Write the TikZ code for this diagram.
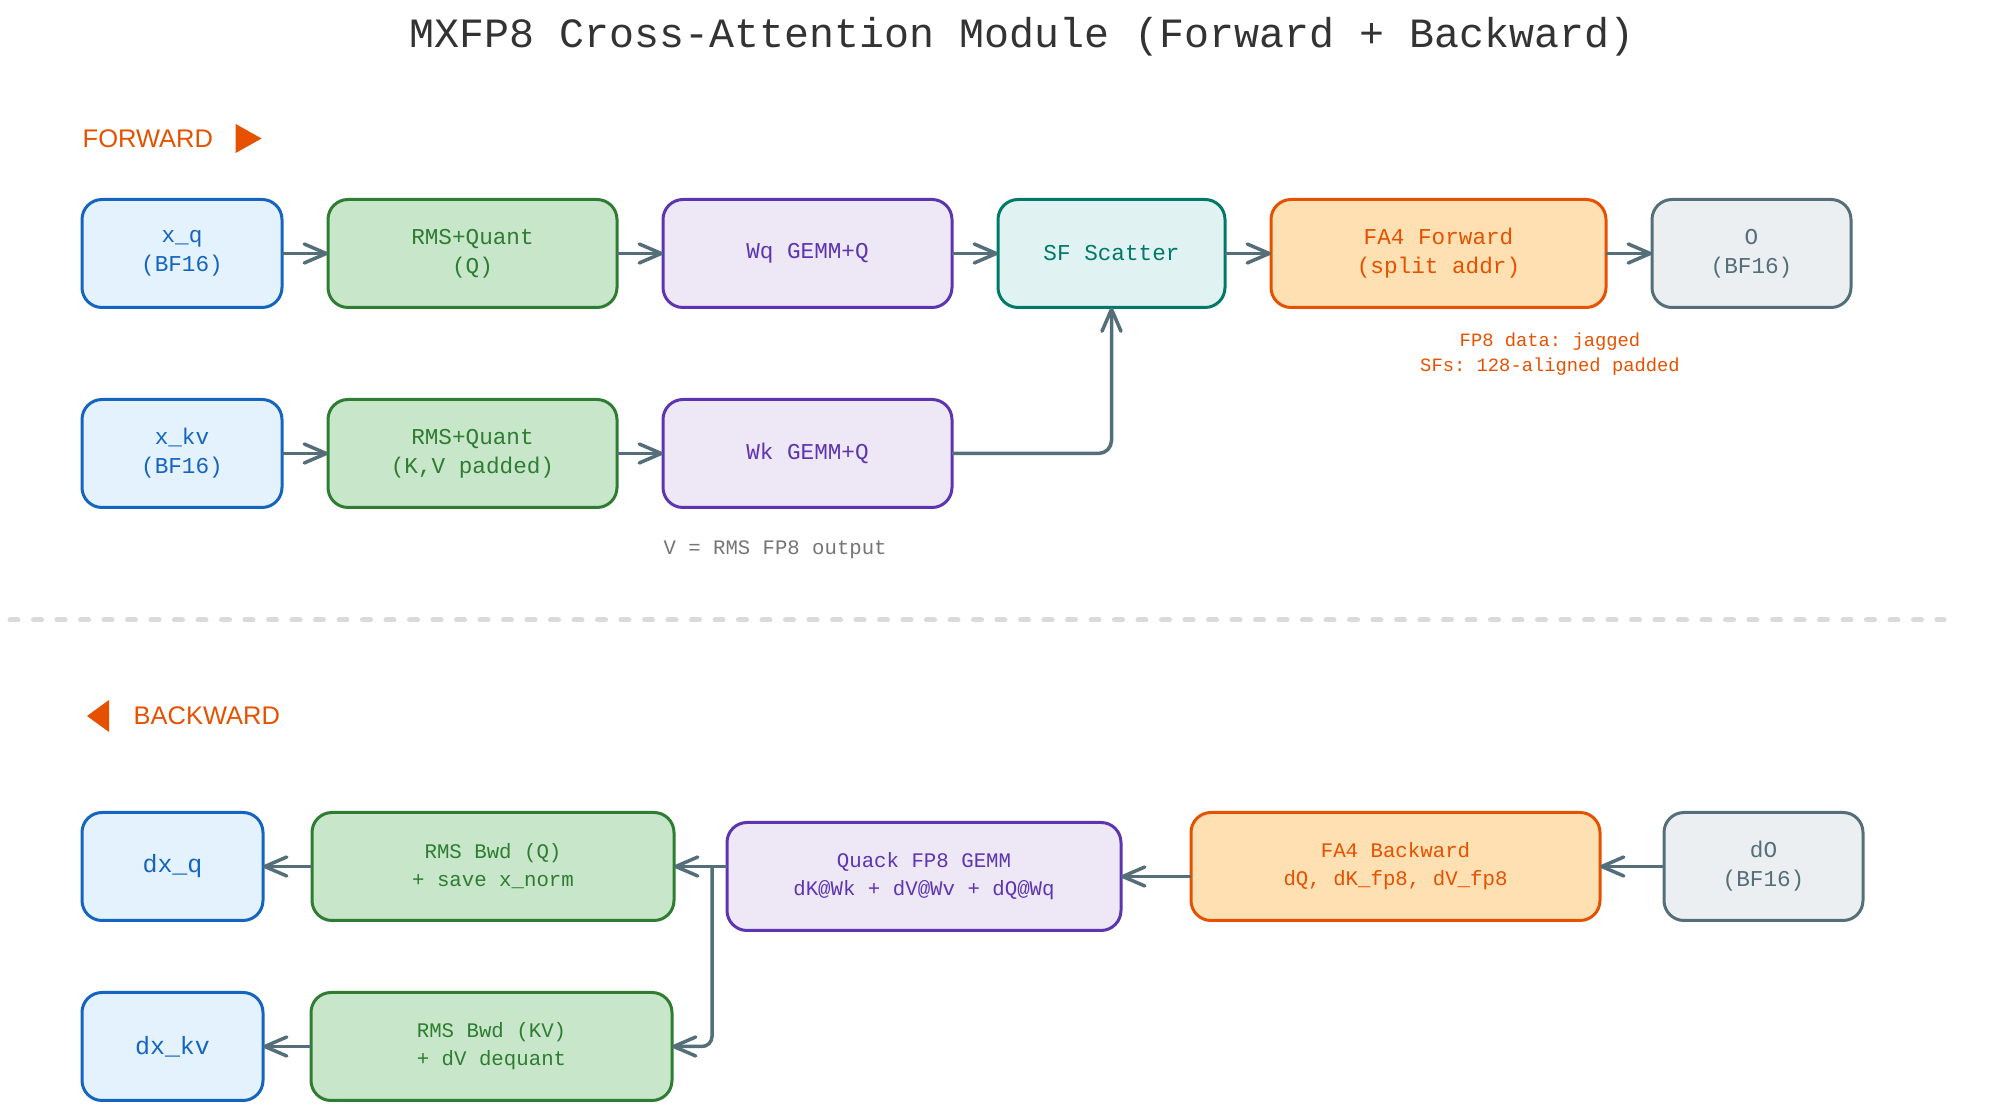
\documentclass[tikz,border=0pt]{standalone}
\usepackage{fontspec}
\setmonofont{Liberation Mono}
\newfontfamily\headfont{Liberation Sans}
\usepackage{tikz}
\usetikzlibrary{positioning,arrows.meta}
\definecolor{blueD}{HTML}{1565C0}
\definecolor{blueL}{HTML}{E3F2FD}
\definecolor{greenD}{HTML}{2E7D32}
\definecolor{greenL}{HTML}{C8E6C9}
\definecolor{purpD}{HTML}{5E35B1}
\definecolor{purpL}{HTML}{EDE7F6}
\definecolor{tealD}{HTML}{00796B}
\definecolor{tealL}{HTML}{E0F2F1}
\definecolor{orngD}{HTML}{E65100}
\definecolor{orngL}{HTML}{FFE0B2}
\definecolor{grayD}{HTML}{546E7A}
\definecolor{grayL}{HTML}{ECEFF1}
\definecolor{titleC}{HTML}{333333}
\definecolor{noteC}{HTML}{757575}
\definecolor{sepC}{HTML}{DADADA}
\newcommand{\fsize}[2]{\fontsize{#1}{#2}\selectfont}

\begin{document}
\begin{tikzpicture}[
  box/.style={draw, rounded corners=0.2cm, line width=0.03cm, align=center, minimum height=1.08cm, inner sep=0pt, outer sep=0pt, font=\ttfamily\fsize{6.45pt}{8.25pt}},
  bwdbox/.style={box, font=\ttfamily\fsize{5.9pt}{7.97pt}},
  io/.style={draw=blueD, fill=blueL, text=blueD},
  norm/.style={draw=greenD, fill=greenL, text=greenD},
  gemm/.style={draw=purpD, fill=purpL, text=purpD},
  scat/.style={draw=tealD, fill=tealL, text=tealD},
  attn/.style={draw=orngD, fill=orngL, text=orngD},
  grad/.style={draw=grayD, fill=grayL, text=grayD},
  arrow/.style={-{Straight Barb[length=0.22cm,width=0.19cm,round]}, line width=0.035cm, draw=grayD},
  header/.style={anchor=west, inner sep=0pt, text=orngD, font=\headfont\fsize{7.25pt}{9pt}}
]
\useasboundingbox (0,0) rectangle (19.99,-11.15);

\node[text=titleC, font=\ttfamily\fsize{11.85pt}{14pt}] (title) at (10.22,-0.37) {MXFP8 Cross-Attention Module (Forward + Backward)};

\node[header] (fwdlbl) at (0.82,-1.385) {FORWARD};
\fill[orngD, shift={(fwdlbl.east)}] (0.22,0.145) -- (0.48,0) -- (0.22,-0.145) -- cycle;

\node[box, io, minimum width=2cm] (xq) at (1.82,-2.535) {x\_q\\(BF16)};
\node[box, norm, minimum width=2.89cm, right=0.46cm of xq] (rmsq) {RMS+Quant\\(Q)};
\node[box, gemm, minimum width=2.89cm, right=0.46cm of rmsq] (wq) {Wq GEMM+Q};
\node[box, scat, minimum width=2.27cm, right=0.46cm of wq] (sf) {SF Scatter};
\node[box, attn, minimum width=3.35cm, right=0.46cm of sf] (fa4f) {FA4 Forward\\(split addr)};
\node[box, grad, minimum width=1.99cm, right=0.46cm of fa4f] (out) {O\\(BF16)};

\node[box, io, minimum width=2cm, below=0.92cm of xq] (xkv) {x\_kv\\(BF16)};
\node[box, norm, minimum width=2.89cm, right=0.46cm of xkv] (rmskv) {RMS+Quant\\(K,V padded)};
\node[box, gemm, minimum width=2.89cm, right=0.46cm of rmskv] (wk) {Wk GEMM+Q};

\node[text=orngD, font=\ttfamily\fsize{5.35pt}{7.1pt}, align=center, inner sep=0pt, below=0.25cm of fa4f, xshift=1.115cm] (sfnote) {FP8 data: jagged\\SFs: 128-aligned padded};
\node[text=noteC, font=\ttfamily\fsize{5.87pt}{7.5pt}, inner sep=0pt, below=0.33cm of wk.south west, anchor=north west] (vnote) {V = RMS FP8 output};

\draw[arrow] (xq) -- (rmsq);
\draw[arrow] (rmsq) -- (wq);
\draw[arrow] (wq) -- (sf);
\draw[arrow] (sf) -- (fa4f);
\draw[arrow] (fa4f) -- (out);
\draw[arrow] (xkv) -- (rmskv);
\draw[arrow] (rmskv) -- (wk);
\draw[arrow, rounded corners=0.13cm] (wk) -| (sf);

\draw[sepC, line width=0.05cm, line cap=round, dash pattern=on 0.08cm off 0.155cm] (0.1,-6.2) -- (19.44,-6.2);

\node[header] (bwdlbl) at (1.33,-7.16) {BACKWARD};
\fill[orngD, shift={(bwdlbl.west)}] (-0.24,0.16) -- (-0.46,0) -- (-0.24,-0.16) -- cycle;

\node[box, io, minimum width=1.81cm, font=\ttfamily\fsize{7.1pt}{9pt}] (dxq) at (1.725,-8.665) {dx\_q};
\node[bwdbox, norm, minimum width=3.62cm, right=0.49cm of dxq] (rmsbq) {RMS Bwd (Q)\\+ save x\_norm};
\node[bwdbox, gemm, minimum width=3.94cm, right=0.53cm of rmsbq, yshift=-0.1cm] (quack) {Quack FP8 GEMM\\dK@Wk + dV@Wv + dQ@Wq};
\node[bwdbox, attn, minimum width=4.09cm, right=0.70cm of quack, yshift=0.1cm] (fa4b) {FA4 Backward\\dQ, dK\_fp8, dV\_fp8};
\node[box, grad, minimum width=1.99cm, right=0.64cm of fa4b] (dO) {dO\\(BF16)};
\node[box, io, minimum width=1.81cm, font=\ttfamily\fsize{7.1pt}{9pt}, below=0.72cm of dxq] (dxkv) {dx\_kv};
\node[bwdbox, norm, minimum width=3.61cm, right=0.48cm of dxkv] (rmsbkv) {RMS Bwd (KV)\\+ dV dequant};

\draw[arrow] (dO) -- (fa4b);
\draw[arrow] (fa4b.west |- quack.east) -- (quack.east);
\draw[arrow] (quack.west |- rmsbq.east) -- (rmsbq.east);
\draw[arrow, rounded corners=0.1cm] ([xshift=-0.15cm]quack.west |- rmsbq.east) |- (rmsbkv.east);
\draw[arrow] (rmsbq) -- (dxq);
\draw[arrow] (rmsbkv) -- (dxkv);
\end{tikzpicture}
\end{document}
